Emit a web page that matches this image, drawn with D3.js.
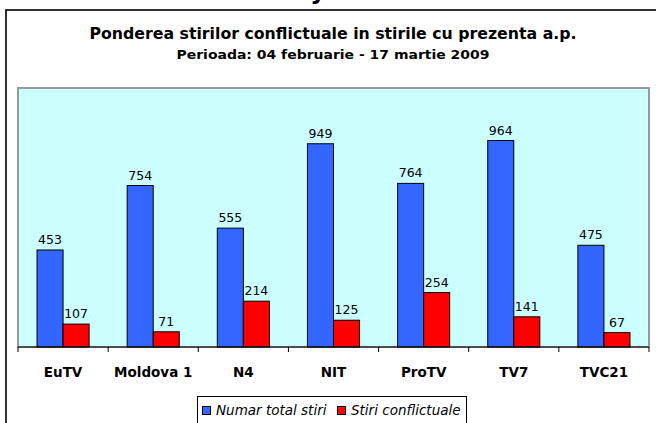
<html>
<head>
  <meta charset="utf-8">
  <title>Ponderea stirilor conflictuale</title>
  <script src="https://cdnjs.cloudflare.com/ajax/libs/d3/7.8.5/d3.min.js"></script>
  <style>
    body { margin: 0; background: #fff; }
    svg { display: block; }
  </style>
</head>
<body>
  <svg></svg>
  <script>
var categories = ["EuTV", "Moldova 1", "N4", "NIT", "ProTV", "TV7", "TVC21"];
var seriesNames = ["Numar total stiri", "Stiri conflictuale"];
var totalStiri = [453, 754, 555, 949, 764, 964, 475];
var stiriConflict = [107, 71, 214, 125, 254, 141, 67];
var seriesColors = ["#3366ff", "#ff0000"];
var titleText = "Ponderea stirilor conflictuale in stirile cu prezenta a.p.";
var subtitleText = "Perioada: 04 februarie - 17 martie 2009";

var w = 656, h = 423;
var svg = d3.select("svg").attr("width", w).attr("height", h);

var plot = {left: 18, right: 649, top: 88, bottom: 347};

// cut-off glyph of the heading above the chart
svg.append("text")
  .attr("x", 318).attr("y", -1)
  .attr("text-anchor", "middle")
  .style("font-family", "DejaVu Sans").style("font-weight", "bold")
  .style("font-size", "24px")
  .text("y");

// outer frame (right edge falls outside the picture)
svg.append("rect")
  .attr("x", 6).attr("y", 10)
  .attr("width", 660).attr("height", 430)
  .attr("fill", "none").attr("stroke", "#000").attr("stroke-width", 1.6);

function fitText(sel, width) {
  var len = sel.node().getComputedTextLength();
  if (len > 0) sel.attr("textLength", width).attr("lengthAdjust", "spacingAndGlyphs");
}

var t1 = svg.append("text")
  .attr("x", 333).attr("y", 39)
  .attr("text-anchor", "middle")
  .style("font-family", "'DejaVu Sans Condensed', 'DejaVu Sans'").style("font-weight", "bold")
  .style("font-size", "16.5px")
  .text(titleText);
fitText(t1, 487);

var t2 = svg.append("text")
  .attr("x", 333).attr("y", 59)
  .attr("text-anchor", "middle")
  .style("font-family", "'DejaVu Sans Condensed', 'DejaVu Sans'").style("font-weight", "bold")
  .style("font-size", "13px")
  .text(subtitleText);
fitText(t2, 313);

// plot area
svg.append("rect")
  .attr("x", plot.left).attr("y", plot.top)
  .attr("width", plot.right - plot.left).attr("height", plot.bottom - plot.top)
  .attr("fill", "#ccffff").attr("stroke", "#999").attr("stroke-width", 2);

var x = d3.scaleBand().domain(categories).range([plot.left, plot.right]).padding(0);
var xs = d3.scaleBand().domain(seriesNames).range([0, x.bandwidth()])
  .paddingInner(0).paddingOuter(0.73);
var y = d3.scaleLinear().domain([0, 1200]).range([plot.bottom, plot.top + 2]);

var data = categories.map(function(c, i) {
  return [
    {cat: c, s: seriesNames[0], v: totalStiri[i], col: seriesColors[0]},
    {cat: c, s: seriesNames[1], v: stiriConflict[i], col: seriesColors[1]}
  ];
});

var groups = svg.selectAll("g.grp").data(data).enter().append("g")
  .attr("class", "grp")
  .attr("transform", function(d) { return "translate(" + x(d[0].cat) + ",0)"; });

groups.selectAll("rect").data(function(d) { return d; }).enter().append("rect")
  .attr("x", function(d) { return xs(d.s); })
  .attr("y", function(d) { return y(d.v); })
  .attr("width", xs.bandwidth())
  .attr("height", function(d) { return y(0) - y(d.v); })
  .attr("fill", function(d) { return d.col; })
  .attr("stroke", "#000").attr("stroke-width", 1);

groups.selectAll("text.val").data(function(d) { return d; }).enter().append("text")
  .attr("class", "val")
  .attr("x", function(d) { return xs(d.s) + xs.bandwidth() / 2; })
  .attr("y", function(d) { return y(d.v) - 6; })
  .attr("text-anchor", "middle")
  .style("font-family", "DejaVu Sans").style("font-size", "12.5px")
  .text(function(d) { return d.v; });

// category axis
var axis = d3.axisBottom(x).tickSize(0).tickPadding(20);
var ax = svg.append("g").attr("transform", "translate(0," + plot.bottom + ")").call(axis);
ax.select(".domain").remove();
ax.selectAll("text")
  .style("font-family", "DejaVu Sans").style("font-weight", "bold")
  .style("font-size", "13.5px").attr("fill", "#000");

svg.append("line")
  .attr("x1", plot.left).attr("x2", plot.right)
  .attr("y1", plot.bottom).attr("y2", plot.bottom)
  .attr("stroke", "#000").attr("stroke-width", 1);
var bounds = categories.map(function(c) { return x(c); }).concat([plot.right]);
svg.selectAll("line.tk").data(bounds).enter().append("line")
  .attr("class", "tk")
  .attr("x1", function(d) { return d; }).attr("x2", function(d) { return d; })
  .attr("y1", plot.bottom).attr("y2", plot.bottom + 5)
  .attr("stroke", "#000");

// legend
var leg = svg.append("g");
leg.append("rect")
  .attr("x", 197.5).attr("y", 396.5).attr("width", 269).attr("height", 40)
  .attr("fill", "#fff").attr("stroke", "#000").attr("stroke-width", 1);
var legX = [202, 337];
seriesNames.forEach(function(s, i) {
  leg.append("rect")
    .attr("x", legX[i] + 0.5).attr("y", 406.5).attr("width", 8).attr("height", 8)
    .attr("fill", seriesColors[i]).attr("stroke", "#000");
  leg.append("text")
    .attr("x", legX[i] + 14).attr("y", 415)
    .style("font-family", "DejaVu Sans").style("font-style", "italic")
    .style("font-size", "13.5px")
    .text(s);
});
  </script>
</body>
</html>
